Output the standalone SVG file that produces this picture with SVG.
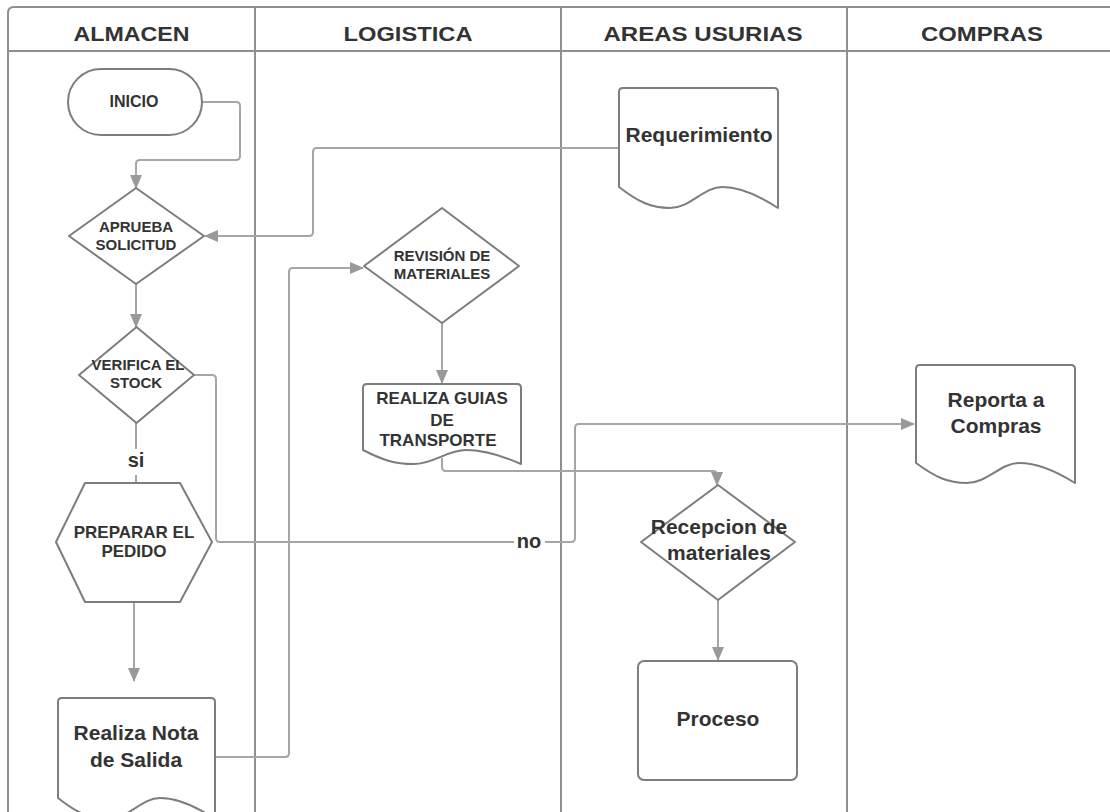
<svg xmlns="http://www.w3.org/2000/svg" width="1110" height="812" viewBox="0 0 1110 812">
<style>
.lane{fill:none;stroke:#8f8f8f;stroke-width:2}
.node{fill:#ffffff;stroke:#7d7d7d;stroke-width:2;stroke-linejoin:round}
.conn{fill:none;stroke:#a6a6a6;stroke-width:2}
.t{font-family:"Liberation Sans",Arial,sans-serif;font-weight:bold;fill:#333333;text-anchor:middle}
.h{font-size:20px}
.s15{font-size:15px}
.s16{font-size:16px}
.s17{font-size:17px}
.s21{font-size:21px}
</style>
<defs>
<marker id="arr" viewBox="0 0 14 12" refX="13" refY="6" markerWidth="14" markerHeight="12" markerUnits="userSpaceOnUse" orient="auto">
<path d="M0,0 L14,6 L0,12 Z" fill="#999999"/>
</marker>
</defs>
<rect width="1110" height="812" fill="#ffffff"/>
<g id="lanes">
<path class="lane" d="M8,812 V13 Q8,7 14,7 H1110"/>
<path class="lane" d="M8,51 H1110"/>
<path class="lane" d="M255,7 V812"/>
<path class="lane" d="M561,7 V812"/>
<path class="lane" d="M847,7 V812"/>
<text class="t h" x="131.5" y="41" textLength="116" lengthAdjust="spacingAndGlyphs">ALMACEN</text>
<text class="t h" x="408" y="41" textLength="129" lengthAdjust="spacingAndGlyphs">LOGISTICA</text>
<text class="t h" x="703" y="41" textLength="199" lengthAdjust="spacingAndGlyphs">AREAS USURIAS</text>
<text class="t h" x="982" y="41" textLength="122" lengthAdjust="spacingAndGlyphs">COMPRAS</text>
</g>
<g id="connectors">
<path class="conn" d="M202,102 H236 Q240,102 240,106 V156 Q240,160 236,160 H140 Q136,160 136,164 V188" marker-end="url(#arr)"/>
<path class="conn" d="M619,148 H317 Q313,148 313,152 V232 Q313,236 309,236 H205" marker-end="url(#arr)"/>
<path class="conn" d="M136,284 V327" marker-end="url(#arr)"/>
<path class="conn" d="M136,423 V500" marker-end="url(#arr)"/>
<path class="conn" d="M194,375 H212 Q216,375 216,379 V538 Q216,542 220,542 H571 Q575,542 575,538 V428 Q575,424 579,424 H914" marker-end="url(#arr)"/>
<path class="conn" d="M134,602 V681" marker-end="url(#arr)"/>
<path class="conn" d="M215,757 H285 Q289,757 289,753 V272 Q289,268 293,268 H363" marker-end="url(#arr)"/>
<path class="conn" d="M442,323 V383" marker-end="url(#arr)"/>
<path class="conn" d="M442,458 V467 Q442,471 446,471 H713 Q717,471 717,475 V485" marker-end="url(#arr)"/>
<path class="conn" d="M718,600 V660" marker-end="url(#arr)"/>
<rect x="124" y="449" width="24" height="26" fill="#ffffff"/>
<text class="t" style="font-size:20px" x="136" y="467">si</text>
<rect x="514" y="530" width="31" height="24" fill="#ffffff"/>
<text class="t" style="font-size:20px" x="529" y="548">no</text>
</g>
<g id="inicio">
<rect class="node" x="68" y="69" width="134" height="66" rx="33"/>
<text class="t s16" x="134" y="107">INICIO</text>
</g>
<g id="aprueba">
<polygon class="node" points="136,188 204,236 136,284 69,236"/>
<text class="t s15" x="136" y="231.5">APRUEBA</text>
<text class="t s15" x="136" y="250">SOLICITUD</text>
</g>
<g id="verifica">
<polygon class="node" points="136.5,327 194,375 136.5,423 79,375"/>
<text class="t s15" x="138" y="370">VERIFICA EL</text>
<text class="t s15" x="136" y="388">STOCK</text>
</g>
<g id="preparar">
<polygon class="node" points="85,483 180,483 212,542 180,602 85,602 56,542"/>
<text class="t s17" x="134" y="537.5">PREPARAR EL</text>
<text class="t s17" x="134" y="557">PEDIDO</text>
</g>
<g id="nota-salida">
<path class="node" d="M58,798 V702 Q58,698 62,698 H211 Q215,698 215,702 V819 C199.3,808.5 180.5,798 160,798 C141.2,798 128.7,819 108.2,819 C89.4,819 76.8,812.7 58,798 Z"/>
<text class="t s21" x="136" y="740">Realiza Nota</text>
<text class="t s21" x="136" y="767">de Salida</text>
</g>
<g id="revision">
<polygon class="node" points="442,208 519,266 442,323 364,266"/>
<text class="t s15" x="442" y="261">REVISIÓN DE</text>
<text class="t s15" x="442" y="279">MATERIALES</text>
</g>
<g id="guias">
<path class="node" d="M363,450 V388 Q363,384 367,384 H517 Q521,384 521,388 V464 C505.2,457 486.2,450 465.7,450 C446.7,450 434.1,464 413.6,464 C394.6,464 382,459.8 363,450 Z"/>
<text class="t s17" x="442" y="404">REALIZA GUIAS</text>
<text class="t s17" x="442" y="425.5">DE</text>
<text class="t s17" x="438" y="446">TRANSPORTE</text>
</g>
<g id="requerimiento">
<path class="node" d="M619,187 V92 Q619,88 623,88 H774 Q778,88 778,92 V208 C762,197.5 743,187 722.4,187 C703.3,187 690.6,208 669.9,208 C650.8,208 638.1,201.7 619,187 Z"/>
<text class="t s21" x="699" y="142">Requerimiento</text>
</g>
<g id="recepcion">
<polygon class="node" points="718,485 795,542 718,600 641,542"/>
<text class="t s21" x="719" y="534">Recepcion de</text>
<text class="t s21" x="719" y="560">materiales</text>
</g>
<g id="proceso">
<rect class="node" x="638" y="661" width="159" height="119" rx="6"/>
<text class="t s21" x="718" y="726">Proceso</text>
</g>
<g id="reporta">
<path class="node" d="M916,463 V369 Q916,365 920,365 H1071 Q1075,365 1075,369 V483 C1059,473 1040,463 1019.4,463 C1000.3,463 987.6,483 966.9,483 C947.8,483 935.1,477 916,463 Z"/>
<text class="t s21" x="996" y="406.5">Reporta a</text>
<text class="t s21" x="996" y="432.5">Compras</text>
</g>
</svg>
